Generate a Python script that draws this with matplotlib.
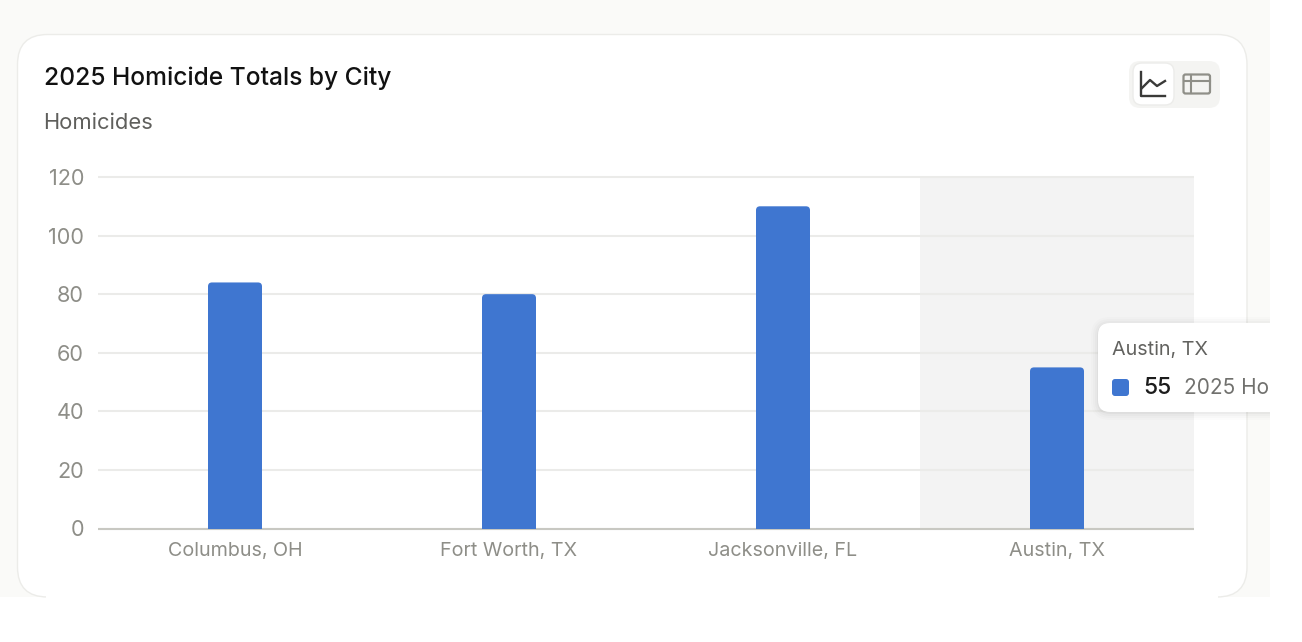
import matplotlib
matplotlib.use("Agg")
import matplotlib.pyplot as plt
from matplotlib.patches import FancyBboxPatch, Rectangle

plt.rcParams['font.family'] = ['Inter', 'DejaVu Sans']

cities = ['Columbus, OH', 'Fort Worth, TX', 'Jacksonville, FL', 'Austin, TX']
homicides = [84, 80, 110, 55]
y_ticks = [0, 20, 40, 60, 80, 100, 120]
highlight = 'Austin, TX'
tooltip_series = '2025 Ho'  # cut off by the screenshot edge in the reference

W, H = 1302, 642
BLUE = '#3f76d0'


def box(ax, x0, y0, x1, y1, r, **kw):
    p = FancyBboxPatch((x0, y0), x1 - x0, y1 - y0,
                       boxstyle=f"round,pad=0,rounding_size={r}", **kw)
    ax.add_patch(p)
    return p


fig = plt.figure(figsize=(W / 100, H / 100), dpi=100, facecolor='white')

# page + card, drawn in pixel coordinates
bg = fig.add_axes([0, 0, 1, 1], zorder=0)
bg.set_xlim(0, W)
bg.set_ylim(H, 0)
bg.axis('off')
bg.add_patch(Rectangle((0, 0), 1270, 597, fc='#fafaf8', ec='none'))
box(bg, 17.5, 34.5, 1247, 597, 30, fc='white', ec='#ecece9', lw=1)
# card bottom fades out at the screenshot edge
bg.add_patch(Rectangle((46, 595.5), 1172, 2, fc='white', ec='none'))

bg.text(43.5, 78.5, '2025 Homicide Totals by City', fontsize=17.7, fontweight='medium',
        color='#111111', va='center', ha='left')
bg.text(43.5, 123, 'Homicides', fontsize=15.8, color='#5f5f5c', va='center', ha='left')

# view switch icons
box(bg, 1129, 61, 1220, 108, 11, fc='#f4f4f2', ec='none')
box(bg, 1133, 63, 1174, 105, 9, fc='white', ec='#ececea', lw=1)
bg.plot([1141, 1141, 1165], [72, 96, 96], color='#3a3a38', lw=1.7)
bg.plot([1142, 1150, 1157, 1165], [88, 80, 86, 81], color='#3a3a38', lw=1.7)
box(bg, 1183.5, 74.5, 1210, 93.5, 2, fc='none', ec='#8f8f88', lw=1.6)
bg.plot([1184, 1210], [81, 81], color='#8f8f88', lw=1.5)
bg.plot([1191, 1191], [75, 93], color='#8f8f88', lw=1.5)

# chart
ax = fig.add_axes([98 / W, 1 - 528.5 / H, (1194 - 98) / W, (528.5 - 177) / H], zorder=1)
ax.patch.set_alpha(0)
x = range(len(cities))
ax.set_xlim(-0.5, len(cities) - 0.5)
ax.set_ylim(0, 120)
ax.axvspan(cities.index(highlight) - 0.5, cities.index(highlight) + 0.5,
           color='#f3f3f3', lw=0, zorder=0)
ax.set_yticks(y_ticks)
ax.set_xticks(list(x))
ax.set_xticklabels(cities)
ax.grid(axis='y', color='#ebebe9', lw=1.5, zorder=1, clip_on=False, solid_capstyle='butt')
ax.set_axisbelow(True)
for side in ['top', 'right', 'left']:
    ax.spines[side].set_visible(False)
ax.spines['bottom'].set_color('#c8c8c2')
ax.spines['bottom'].set_linewidth(1.5)
ax.spines['bottom'].set_capstyle('butt')
ax.tick_params(axis='both', length=0, labelcolor='#8e8e88')
ax.tick_params(axis='x', pad=9.5, labelsize=14.2)
ax.tick_params(axis='y', pad=10, labelsize=15.6)

bars = ax.bar(x, homicides, width=54 / 274, color=BLUE, zorder=3)
# rounded tops: clip each bar with a rounded box that runs below the axis
px_x = 274
px_y = 351.5 / 120
r = 4 / px_x
for b in bars:
    clip = FancyBboxPatch((b.get_x(), -20), b.get_width(), b.get_height() + 20,
                          boxstyle=f"round,pad=0,rounding_size={r}",
                          mutation_aspect=px_x / px_y,
                          transform=ax.transData, fc='none', ec='none')
    ax.add_patch(clip)
    b.set_clip_path(clip)

# tooltip
top = fig.add_axes([0, 0, 1, 1], zorder=2)
top.set_xlim(0, W)
top.set_ylim(H, 0)
top.axis('off')
page = Rectangle((0, 0), 1270, 597, transform=top.transData)
for grow, alpha in [(7, 0.012), (5, 0.016), (3, 0.02), (1, 0.03)]:
    s = box(top, 1098 - grow, 323 - grow + 1, 1300 + grow, 412 + grow + 1, 12 + grow,
            fc='black', ec='none', alpha=alpha)
    s.set_clip_path(page)
s = box(top, 1098, 323, 1300, 412, 12, fc='white', ec='none')
s.set_clip_path(page)
box(top, 1112, 379, 1129, 396, 3, fc=BLUE, ec='none')
top.text(1112, 349.5, highlight, fontsize=14.2, color='#62625f', va='center', ha='left')
top.text(1143, 388.5, str(homicides[cities.index(highlight)]), fontsize=16.5, fontweight='medium',
         color='#1c1c1c', va='center', ha='left')
top.text(1184, 388.5, tooltip_series, fontsize=15, color='#71716e', va='center', ha='left')

fig.savefig('out.png', dpi=100, facecolor='white')
